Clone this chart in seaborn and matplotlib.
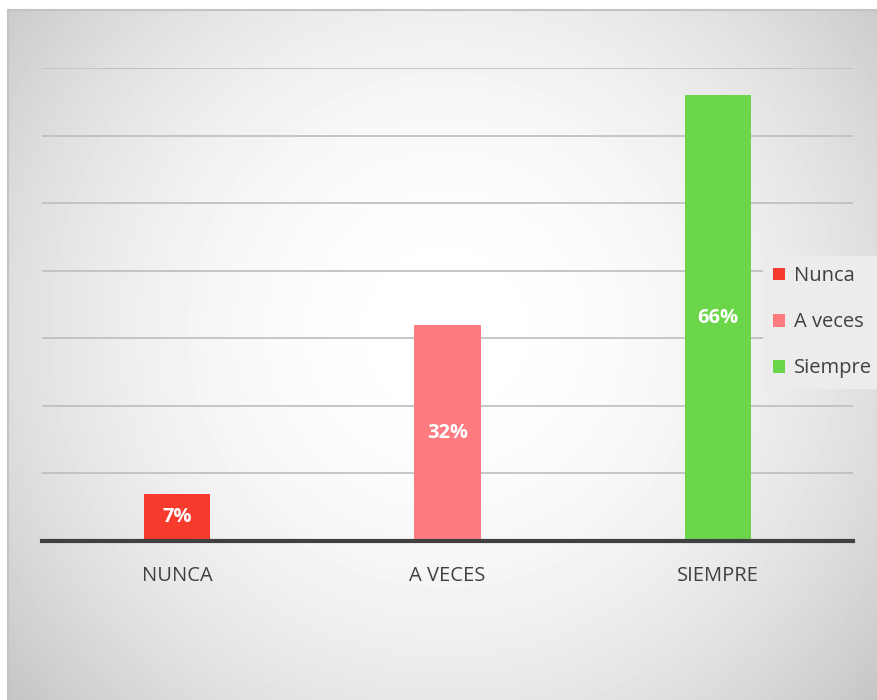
import numpy as np
import pandas as pd
import matplotlib.pyplot as plt
import seaborn as sns

categories = ["NUNCA", "A VECES", "SIEMPRE"]
legend_names = ["Nunca", "A veces", "Siempre"]
values = [0.07, 0.32, 0.66]
labels = ["7%", "32%", "66%"]
colors = ["#F63A2E", "#FF7B80", "#6CD64A"]

df = pd.DataFrame({"cat": categories, "serie": legend_names, "val": values})

sns.set_theme(style="white")
plt.rcParams["font.family"] = ["Open Sans", "DejaVu Sans"]

W, H = 877, 700
fig = plt.figure(figsize=(W / 100, H / 100), dpi=100)

# radial gradient background of the chart area
bg = fig.add_axes([8 / W, 0, 1 - 8 / W, 1 - 10 / H])
yy, xx = np.mgrid[0:690, 0:869]
r = np.hypot(xx - 437, yy - 320) / 560
gray = 1 - 0.22 * np.clip(r, 0, 1.2) ** 2.1
bg.imshow(gray, cmap="gray", vmin=0, vmax=1, aspect="auto", interpolation="bilinear")
bg.set_axis_off()
fig.add_artist(plt.Line2D([8 / W, 8 / W], [0, 1 - 10 / H], color="#c4c4c4", lw=1.5))
fig.add_artist(plt.Line2D([8 / W, 1], [1 - 10 / H, 1 - 10 / H], color="#c4c4c4", lw=1.5))

ax = fig.add_axes([42 / W, (H - 541) / H, (853 - 42) / W, (541 - 68) / H])
ax.patch.set_alpha(0)
sns.barplot(data=df, x="cat", y="val", hue="serie", palette=colors,
            width=0.245, dodge=False, legend=True, ax=ax, saturation=1,
            linewidth=0)

ax.set_ylim(0, 0.70)
ax.set_yticks(np.arange(0, 0.71, 0.1))
ax.yaxis.grid(True, color="#bdbdbd", lw=1.2)
ax.set_axisbelow(True)
ax.tick_params(axis="y", left=False, labelleft=False)
ax.tick_params(axis="x", bottom=False, pad=12, labelsize=14.5, labelcolor="#404040")
for s in ["top", "right", "left"]:
    ax.spines[s].set_visible(False)
ax.spines["bottom"].set_color("#404040")
ax.spines["bottom"].set_linewidth(3)
ax.set_xlabel("")
ax.set_ylabel("")

for i, (v, lab) in enumerate(zip(values, labels)):
    ax.text(i, v / 2, lab, ha="center", va="center", color="white",
            fontsize=14.5, fontweight="bold")

handles, hl = ax.get_legend_handles_labels()
ax.get_legend().remove()
leg = fig.legend(handles, hl, loc="upper left",
                 bbox_to_anchor=(763 / W, (H - 256) / H),
                 fontsize=14.5, frameon=True, fancybox=False,
                 handlelength=0.6, handleheight=0.6, handletextpad=0.45,
                 labelspacing=1.3, borderpad=0.5, borderaxespad=0,
                 labelcolor="#404040")
leg.get_frame().set_facecolor("#ececec")
leg.get_frame().set_edgecolor("none")
leg.get_frame().set_alpha(1)

fig.savefig("out.png", dpi=100)
